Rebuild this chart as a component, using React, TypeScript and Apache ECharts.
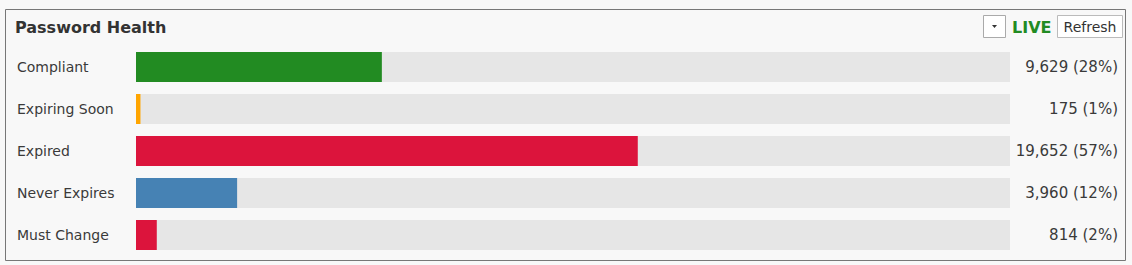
import React, { useEffect, useRef } from "react";
import * as echarts from "echarts";

const categories = ["Compliant", "Expiring Soon", "Expired", "Never Expires", "Must Change"];
const counts = [9629, 175, 19652, 3960, 814];
const percentLabels = ["28%", "1%", "57%", "12%", "2%"];
const barColors = ["#228B22", "#FFA500", "#DC143C", "#4682B4", "#DC143C"];

const total = counts.reduce((a, b) => a + b, 0);
const FONT = "'DejaVu Sans', Tahoma, sans-serif";

export default function App() {
  const ref = useRef<HTMLDivElement>(null);

  useEffect(() => {
    if (!ref.current) return;
    const chart = echarts.init(ref.current, null, { renderer: "svg" });
    const valueLabels = counts.map(
      (c, i) => `${c.toLocaleString("en-US")} (${percentLabels[i]})`
    );

    chart.setOption({
      animation: false,
      backgroundColor: "#f8f8f8",
      grid: { left: 136, right: 122, top: 46, bottom: 9 },
      xAxis: { type: "value", min: 0, max: total, show: false },
      yAxis: [
        {
          type: "category",
          data: categories,
          inverse: true,
          position: "left",
          axisLine: { show: false },
          axisTick: { show: false },
          axisLabel: {
            align: "left",
            margin: 119,
            color: "#3a3a3a",
            fontSize: 14,
            fontFamily: FONT,
            padding: [6, 0, 0, 0],
          },
        },
        {
          type: "category",
          data: valueLabels,
          inverse: true,
          position: "right",
          axisLine: { show: false },
          axisTick: { show: false },
          axisLabel: {
            align: "right",
            margin: 108,
            color: "#3a3a3a",
            fontSize: 15,
            fontFamily: FONT,
            padding: [6, 0, 0, 0],
          },
        },
      ],
      series: [
        {
          type: "bar",
          yAxisIndex: 0,
          barWidth: 30,
          showBackground: true,
          backgroundStyle: { color: "#e6e6e6" },
          data: counts.map((v, i) => ({ value: v, itemStyle: { color: barColors[i] } })),
        },
      ],
      graphic: [
        {
          type: "rect",
          shape: { x: 5.5, y: 9.5, width: 1120, height: 251 },
          style: { fill: "none", stroke: "#777", lineWidth: 1 },
          silent: true,
        },
        {
          type: "text",
          x: 15,
          y: 27,
          style: {
            text: "Password Health",
            fill: "#333",
            font: `bold 16px ${FONT}`,
            textVerticalAlign: "middle",
          },
        },
        {
          type: "rect",
          shape: { x: 983.5, y: 15.5, width: 22, height: 22 },
          style: { fill: "#fff", stroke: "#aaa", lineWidth: 1 },
        },
        {
          type: "polygon",
          shape: { points: [[992, 25], [997, 25], [994.5, 28]] },
          style: { fill: "#333" },
        },
        {
          type: "text",
          x: 1012,
          y: 27,
          style: {
            text: "LIVE",
            fill: "#228B22",
            font: `bold 16px ${FONT}`,
            textVerticalAlign: "middle",
          },
        },
        {
          type: "rect",
          shape: { x: 1057.5, y: 15.5, width: 65, height: 22 },
          style: { fill: "#fff", stroke: "#bbb", lineWidth: 1 },
        },
        {
          type: "text",
          x: 1090,
          y: 27,
          style: {
            text: "Refresh",
            fill: "#333",
            font: `14px ${FONT}`,
            textAlign: "center",
            textVerticalAlign: "middle",
          },
        },
      ],
    });

    return () => chart.dispose();
  }, []);

  return (
    <div
      ref={ref}
      style={{ position: "fixed", left: 0, top: 0, width: 1132, height: 265 }}
    />
  );
}
